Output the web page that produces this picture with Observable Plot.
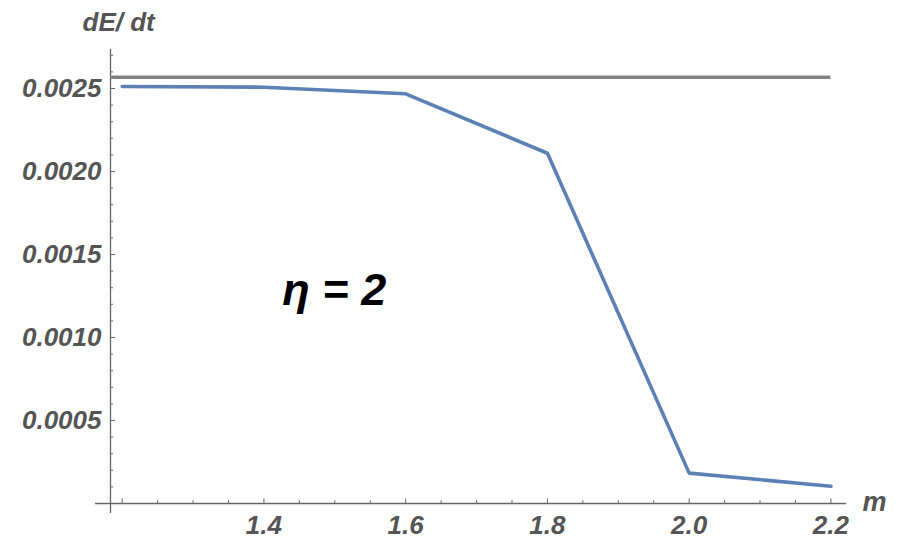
<!DOCTYPE html>
<html>
<head>
<meta charset="utf-8">
<script src="https://cdn.jsdelivr.net/npm/d3@7"></script>
<script src="https://cdn.jsdelivr.net/npm/@observablehq/plot@0.6"></script>
<style>
  html, body { margin: 0; padding: 0; background: #fff; }
  #chart svg { display: block; }
</style>
</head>
<body>
<div id="chart"></div>
<script>
// Data
const mValues = [1.2, 1.4, 1.6, 1.8, 2.0, 2.2];
const dEdtValues = [0.002512, 0.002508, 0.002468, 0.002110, 0.000183, 0.000104];
const refLevel = 0.002568;          // horizontal reference line
const refStart = 1.1835, refEnd = 2.2;

// Axes / ticks
const xDomain = [1.1835, 2.222];
const yDomain = [0, 0.002735];
const axisXStart = 1.1623;           // x axis line extends left of the y axis
const axisYBottom = -0.00006;        // y axis line extends below the x axis
const xMajor = [1.2, 1.4, 1.6, 1.8, 2.0, 2.2];
const xLabeled = [1.4, 1.6, 1.8, 2.0, 2.2];
const xMinor = [1.25, 1.3, 1.35, 1.45, 1.5, 1.55, 1.65, 1.7, 1.75, 1.85, 1.9, 1.95, 2.05, 2.1, 2.15];
const yMajor = [0.0005, 0.0010, 0.0015, 0.0020, 0.0025];
const yMinor = [0.0001, 0.0002, 0.0003, 0.0004, 0.0006, 0.0007, 0.0008, 0.0009,
                0.0011, 0.0012, 0.0013, 0.0014, 0.0016, 0.0017, 0.0018, 0.0019,
                0.0021, 0.0022, 0.0023, 0.0024, 0.0026, 0.0027];
const xTitle = "m";
const yTitle = "dE/ dt";
const annotation = "η = 2";
const annX = 1.426, annY = 0.001193;

const data = mValues.map((m, i) => ({m, v: dEdtValues[i]}));
const axisColor = "#666";
const font = "'Liberation Sans', Arial, Helvetica, sans-serif";

const W = 899, H = 551;
const mL = 110, mR = 53, mT = 49, mB = 48;
const pxPerY = (H - mT - mB) / (yDomain[1] - yDomain[0]);
const pxPerX = (W - mL - mR) / (xDomain[1] - xDomain[0]);

const chart = Plot.plot({
  width: W, height: H,
  marginLeft: mL, marginRight: mR, marginTop: mT, marginBottom: mB,
  style: {fontFamily: font, background: "#fff", overflow: "visible"},
  x: {domain: xDomain},
  y: {domain: yDomain},
  marks: [
    // axis lines
    Plot.ruleY([0], {x1: axisXStart, x2: xDomain[1], stroke: axisColor, strokeWidth: 1.3}),
    Plot.ruleX([xDomain[0]], {y1: axisYBottom, y2: yDomain[1], stroke: axisColor, strokeWidth: 1.3}),
    // x ticks (inward, upward)
    Plot.ruleX(xMajor, {y1: 0, y2: 4.5 / pxPerY, stroke: axisColor, strokeWidth: 1}),
    Plot.ruleX(xMinor, {y1: 0, y2: 2.8 / pxPerY, stroke: axisColor, strokeWidth: 1}),
    // y ticks (inward, rightward)
    Plot.ruleY(yMajor, {x1: xDomain[0], x2: xDomain[0] + 5 / pxPerX, stroke: axisColor, strokeWidth: 1}),
    Plot.ruleY(yMinor, {x1: xDomain[0], x2: xDomain[0] + 3 / pxPerX, stroke: axisColor, strokeWidth: 1}),
    // tick labels
    Plot.axisX({ticks: xLabeled, tickSize: 0, tickPadding: 12, tickFormat: d3.format(".1f"),
      fontSize: 26, fontWeight: "bold", fontStyle: "italic", fill: "#555", label: null}),
    Plot.axisY({ticks: yMajor, tickSize: 0, tickPadding: 9, tickFormat: d3.format(".4f"),
      fontSize: 26, fontWeight: "bold", fontStyle: "italic", fill: "#555", label: null}),
    // axis titles
    Plot.text([yTitle], {frameAnchor: "top-left", dx: -28, dy: -19, textAnchor: "start", lineAnchor: "bottom",
      fontSize: 26, fontWeight: "bold", fontStyle: "italic", fill: "#555"}),
    Plot.text([xTitle], {x: xDomain[1], y: 0, dx: 16, dy: 7, textAnchor: "start", lineAnchor: "bottom",
      fontSize: 27, fontWeight: "bold", fontStyle: "italic", fill: "#555"}),
    // reference line
    Plot.ruleY([refLevel], {x1: refStart, x2: refEnd, stroke: "#808080", strokeWidth: 3.5}),
    // data line
    Plot.line(data, {x: "m", y: "v", stroke: "#5E81B5", strokeWidth: 3.6, strokeLinejoin: "miter"}),
    // annotation
    Plot.text([annotation], {x: annX, y: annY, textAnchor: "start", lineAnchor: "bottom",
      fontSize: 45, fontWeight: "bold", fontStyle: "italic", fill: "#000"})
  ]
});
document.getElementById("chart").append(chart);
</script>
</body>
</html>
